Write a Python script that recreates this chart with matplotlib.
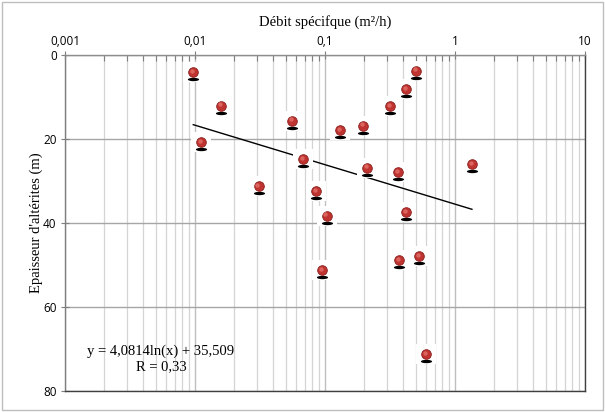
import numpy as np
import matplotlib
matplotlib.use("Agg")
import matplotlib.pyplot as plt
from matplotlib.patches import Rectangle
from matplotlib.ticker import FixedLocator, FixedFormatter, LogLocator, NullFormatter

# specific discharge (m2/h) and weathered layer thickness (m)
debit = [0.0097, 0.0158, 0.0112, 0.056, 0.130, 0.196, 0.0678, 0.21, 0.0309, 0.0853,
         0.504, 0.422, 0.315, 0.366, 1.35, 0.103, 0.0944, 0.422, 0.373, 0.531, 0.601]
epaisseur = [4.1, 12.1, 20.8, 15.7, 17.9, 16.9, 24.8, 26.9, 31.2, 32.4,
             3.8, 8.1, 12.2, 27.9, 26.0, 38.3, 51.2, 37.5, 48.9, 47.9, 71.2]

# log trend coefficients
coef_a = 4.0814
coef_b = 35.509
r_value = 0.33

x_ticks = [0.001, 0.01, 0.1, 1, 10]
x_tick_labels = ["0,001", "0,01", "0,1", "1", "10"]
y_ticks = [0, 20, 40, 60, 80]

serif = "Liberation Serif"
sans = "Open Sans"

fig = plt.figure(figsize=(6.05, 4.12), dpi=100)
fig.patch.set_facecolor("white")
fig.patches.append(Rectangle((0.003, 0.004), 0.994, 0.992, transform=fig.transFigure,
                             fill=False, edgecolor="#bdbdbd", linewidth=1.0))

ax = fig.add_axes([0.1074, 0.051, 0.8595, 0.8155])
ax.set_xscale("log")
ax.set_xlim(0.001, 10)
ax.set_ylim(80, 0)

ax.xaxis.tick_top()
ax.xaxis.set_label_position("top")
ax.xaxis.set_major_locator(FixedLocator(x_ticks))
ax.xaxis.set_major_formatter(FixedFormatter(x_tick_labels))
ax.xaxis.set_minor_locator(LogLocator(base=10, subs=np.arange(2, 10), numticks=20))
ax.xaxis.set_minor_formatter(NullFormatter())
ax.set_yticks(y_ticks)

ax.tick_params(axis="x", which="major", direction="inout", length=6, width=0.8,
               color="#7f7f7f", labelsize=8.5, pad=2)
ax.tick_params(axis="x", which="minor", direction="in", length=4, width=0.8, color="#7f7f7f")
ax.tick_params(axis="y", which="major", direction="inout", length=6, width=0.8,
               color="#7f7f7f", labelsize=8.5, pad=3)
for lab in ax.get_xticklabels() + ax.get_yticklabels():
    lab.set_fontfamily(sans)

ax.grid(axis="x", which="major", color="#bfbfbf", linewidth=1.0)
ax.grid(axis="x", which="minor", color="#d4d4d4", linewidth=0.9)
ax.grid(axis="y", which="major", color="#a6a6a6", linewidth=1.0)
ax.set_axisbelow(True)

ax.spines["top"].set_color("#8c8c8c")
ax.spines["left"].set_color("#7f7f7f")
ax.spines["bottom"].set_color("#404040")
ax.spines["right"].set_color("#404040")
for sp in ax.spines.values():
    sp.set_linewidth(1.0)

ax.set_xlabel("Débit spécifque (m²/h)", fontfamily=serif, fontsize=10.5, labelpad=7)
ax.set_ylabel("Epaisseur d'altérites (m)", fontfamily=serif, fontsize=10.5, labelpad=0)

# trend line over the data range
xs = np.logspace(np.log10(min(debit)), np.log10(max(debit)), 100)
ax.plot(xs, coef_a * np.log(xs) + coef_b, color="black", linewidth=1.0, zorder=3)

# markers: white backing, shadow, red ball, highlight
t = np.linspace(0, 2 * np.pi, 40)
shadow_path = list(zip(np.cos(t), 0.3 * np.sin(t)))
shadow_off = matplotlib.transforms.offset_copy(ax.transData, fig=fig, x=0, y=-7, units="dots")
hi_off = matplotlib.transforms.offset_copy(ax.transData, fig=fig, x=-1.2, y=1.5, units="dots")

ax.scatter(debit, epaisseur, s=190, marker="s", color="white", linewidths=0, zorder=4)
ax.scatter(debit, epaisseur, s=65, marker=shadow_path, color="black", linewidths=0,
           transform=shadow_off, zorder=5)
ax.scatter(debit, epaisseur, s=48, color="#bf3431", edgecolors="#8a1f1d", linewidths=0.6, zorder=6)
ax.scatter(debit, epaisseur, s=10, color="#e06a63", linewidths=0, alpha=0.9,
           transform=hi_off, zorder=7)

ax.text(0.00547, 70.6, f"y = {coef_a:.4f}ln(x) + {coef_b:.3f}".replace(".", ","),
        fontfamily=serif, fontsize=10.5, ha="center", va="center", zorder=8)
ax.text(0.00547, 74.2, f"R = {r_value:.2f}".replace(".", ","),
        fontfamily=serif, fontsize=10.5, ha="center", va="center", zorder=8)

fig.savefig("out.png", dpi=100)
